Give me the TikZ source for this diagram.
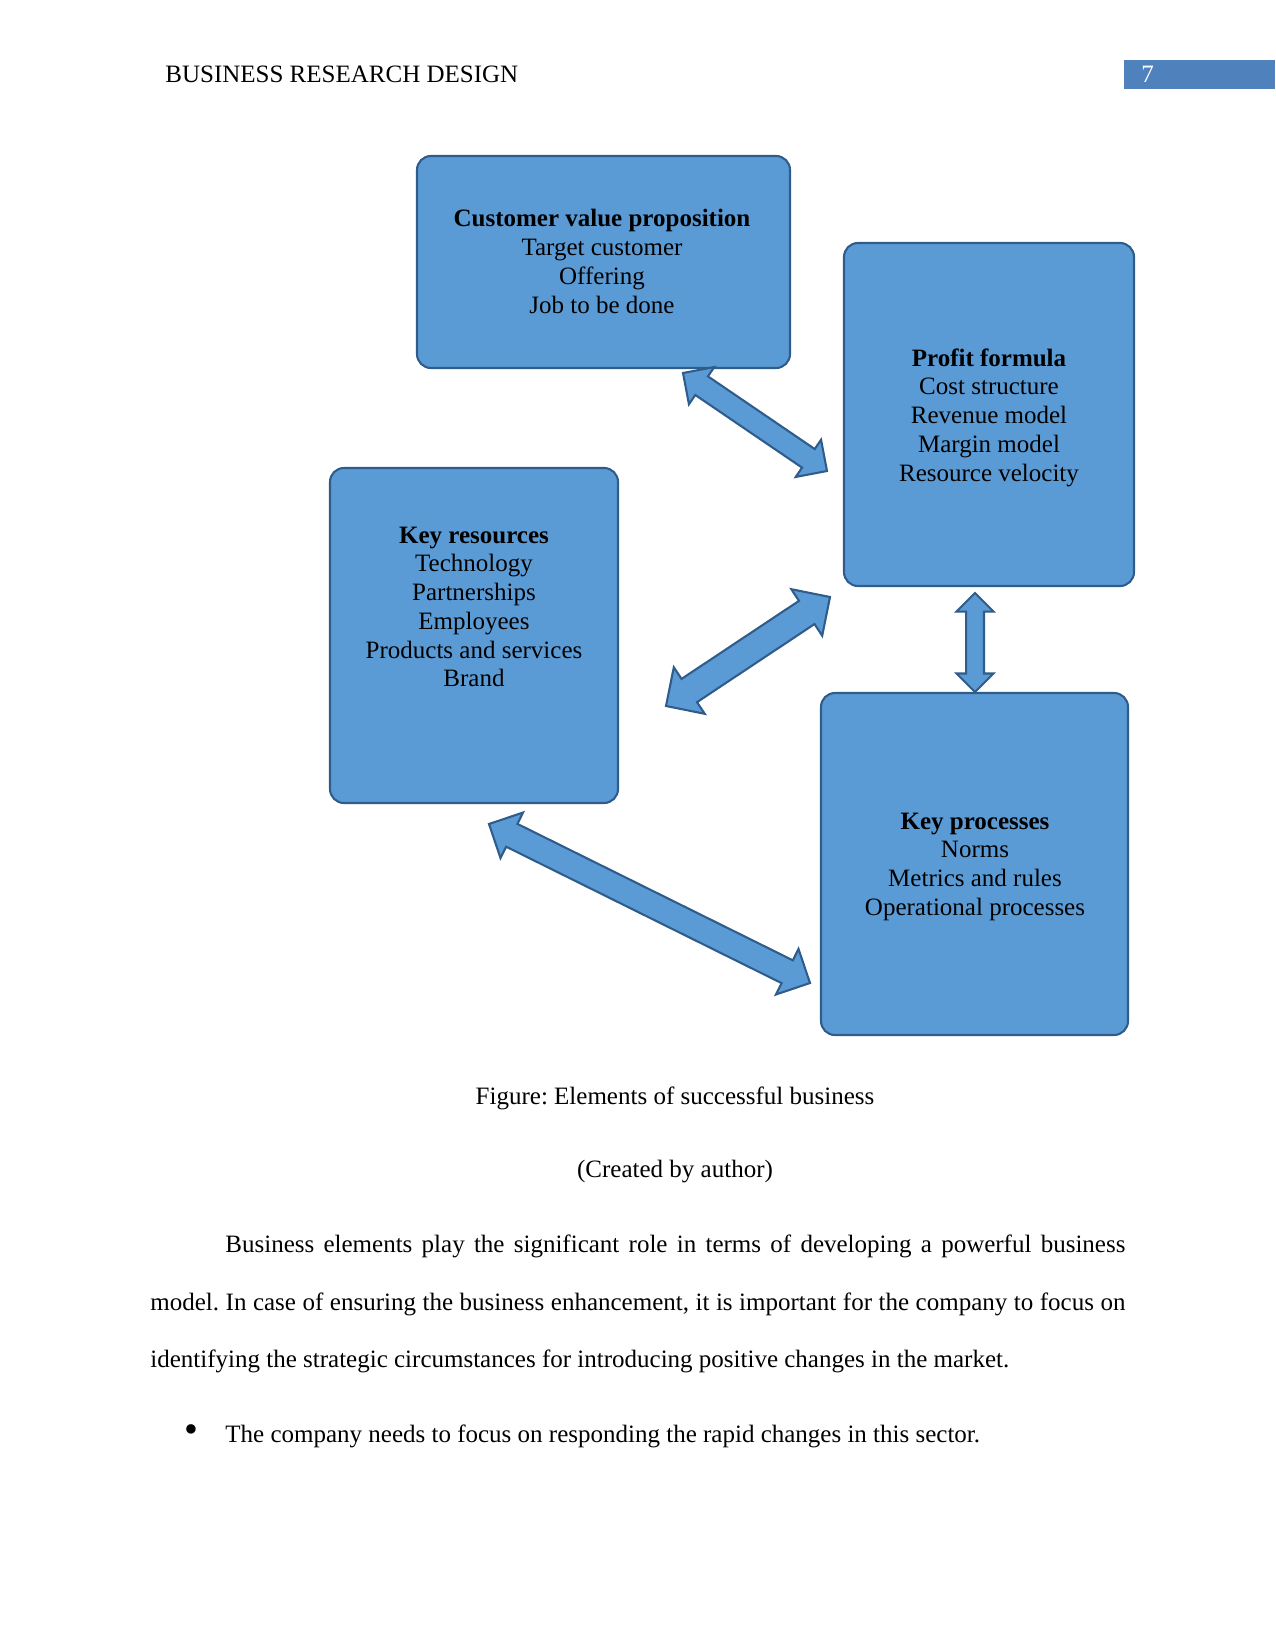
\documentclass[tikz,border=0pt]{standalone}
\usepackage{fontspec}
\setmainfont{Liberation Serif}
\usetikzlibrary{calc}
\frenchspacing
\definecolor{boxfill}{HTML}{5B9BD5}
\definecolor{boxline}{HTML}{2F5C8A}
\definecolor{hdrblue}{HTML}{4F81BD}
\tikzset{
  blbox/.style={draw=boxline, fill=boxfill, line width=1pt, rounded corners=6.7pt, rectangle, inner sep=0pt},
  boxtext/.style={anchor=base, inner sep=0pt, font=\fontsize{12}{13.8}\selectfont},
  bodytext/.style={inner sep=0pt, font=\fontsize{12}{14}\selectfont},
  dblarr/.style={draw=boxline, fill=boxfill, line width=1pt, line join=miter},
}
\newcommand\dblblockarrow[4]{% start, end, head half width (= head length), shaft half width
  \filldraw[dblarr] (#1) -- ($(#1)!#3!(#2)!#3!90:(#2)$) -- ($(#1)!#3!(#2)!#4!90:(#2)$)
    -- ($(#2)!#3!(#1)!#4!-90:(#1)$) -- ($(#2)!#3!(#1)!#3!-90:(#1)$) -- (#2)
    -- ($(#2)!#3!(#1)!#3!90:(#1)$) -- ($(#2)!#3!(#1)!#4!90:(#1)$)
    -- ($(#1)!#3!(#2)!#4!-90:(#2)$) -- ($(#1)!#3!(#2)!#3!-90:(#2)$) -- cycle;}
\begin{document}
\begin{tikzpicture}[x=0.48pt,y=-0.48pt]
\fill[white] (0,0) rectangle (1275,1651);
\useasboundingbox (0,0) rectangle (1275,1651);

% header
\node[bodytext, anchor=base west] (hdr) at (165,83) {BUSINESS RESEARCH DESIGN};
\fill[hdrblue] (1124,60) rectangle (1275,89);
\node[bodytext, anchor=base west, text=white] (pgnum) at (1141,83) {7};

% boxes
\node[blbox, minimum width=179.04pt, minimum height=101.76pt] (cvp) at (603.5,262) {};
\node[blbox, minimum width=139.2pt, minimum height=164.64pt] (pf) at (989,414.5) {};
\node[blbox, minimum width=138.24pt, minimum height=160.8pt] (kr) at (474,635.5) {};
\node[blbox, minimum width=147.36pt, minimum height=164.16pt] (kp) at (974.5,864) {};

% box texts
\node[boxtext] (cvpt) at (602,227) {\begin{tabular}[t]{@{}c@{}}\textbf{Customer value proposition}\\ Target customer\\ Offering\\ Job to be done\end{tabular}};
\node[boxtext] (pft) at (989,366) {\begin{tabular}[t]{@{}c@{}}\textbf{Profit formula}\\ Cost structure\\ Revenue model\\ Margin model\\ Resource velocity\end{tabular}};
\node[boxtext] (krt) at (474,543) {\begin{tabular}[t]{@{}c@{}}\textbf{Key resources}\\ Technology\\ Partnerships\\ Employees\\ Products and services\\ Brand\end{tabular}};
\node[boxtext] (kpt) at (975,829) {\begin{tabular}[t]{@{}c@{}}\textbf{Key processes}\\ Norms\\ Metrics and rules\\ Operational processes\end{tabular}};

% arrow ends
\coordinate (a1s) at (683,373);
\coordinate (a1e) at (827,471);
\coordinate (a2s) at (830,597);
\coordinate (a2e) at (666,706);
\coordinate (a3s) at (975,593);
\coordinate (a3e) at (975,692);
\coordinate (a4s) at (489,824);
\coordinate (a4e) at (810,983);

\dblblockarrow{a1s}{a1e}{10.8pt}{5.4pt}
\dblblockarrow{a2s}{a2e}{13.4pt}{6.7pt}
\dblblockarrow{a3s}{a3e}{8.9pt}{4.3pt}
\dblblockarrow{a4s}{a4e}{12.2pt}{6.1pt}

% caption
\node[bodytext, anchor=base] (cap1) at (675,1104) {Figure: Elements of successful business};
\node[bodytext, anchor=base] (cap2) at (675,1177) {(Created by author)};

% paragraph
\node[bodytext, anchor=base west] (p1) at (225,1252) {\hbox to 432pt{Business elements play the significant role in terms of developing a powerful business}};
\node[bodytext, anchor=base west] (p2) at (150,1310) {\hbox to 468pt{model. In case of ensuring the business enhancement, it is important for the company to focus on}};
\node[bodytext, anchor=base west] (p3) at (150,1367) {identifying the strategic circumstances for introducing positive changes in the market.};

% bullet
\node[inner sep=0pt, font=\fontsize{19}{19}\selectfont] (bul) at (191,1434) {•};
\node[bodytext, anchor=base west] (b1) at (225,1442) {The company needs to focus on responding the rapid changes in this sector.};
\end{tikzpicture}
\end{document}
